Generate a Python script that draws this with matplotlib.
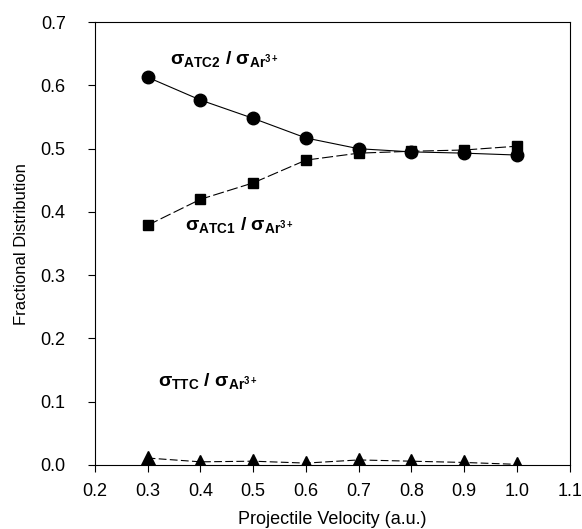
import matplotlib
matplotlib.use("Agg")
import matplotlib.pyplot as plt

plt.rcParams["font.family"] = ["Liberation Sans", "DejaVu Sans"]
plt.rcParams["mathtext.fontset"] = "custom"
plt.rcParams["mathtext.rm"] = "Liberation Sans"
plt.rcParams["mathtext.it"] = "Liberation Sans"
plt.rcParams["mathtext.bf"] = "Liberation Sans:bold"

# 数据
velocity = [0.3, 0.4, 0.5, 0.6, 0.7, 0.8, 0.9, 1.0]
atc2 = [0.613, 0.577, 0.548, 0.517, 0.500, 0.495, 0.493, 0.490]
atc1 = [0.379, 0.420, 0.446, 0.482, 0.493, 0.496, 0.498, 0.504]
ttc = [0.011, 0.005, 0.006, 0.003, 0.008, 0.006, 0.004, 0.001]

x_ticks = [0.2, 0.3, 0.4, 0.5, 0.6, 0.7, 0.8, 0.9, 1.0, 1.1]
y_ticks = [0.0, 0.1, 0.2, 0.3, 0.4, 0.5, 0.6, 0.7]

fig = plt.figure(figsize=(5.82, 5.29), dpi=100)
ax = fig.add_axes([0.163, 0.121, 0.816, 0.837])

ax.plot(velocity, atc2, "k-", lw=0.8, marker="o", markersize=9)
ax.plot(velocity, atc1, "k-", lw=0.8, dashes=(10, 3), marker="s", markersize=7.5)
ax.plot(velocity, ttc, "k-", lw=0.8, dashes=(7, 3), marker="^", markersize=9.5)

ax.text(0.342, 0.634, r"$\mathbf{\sigma_{ATC2}\ /\ \sigma_{Ar^{3+}}}$", fontsize=14)
ax.text(0.37, 0.372, r"$\mathbf{\sigma_{ATC1}\ /\ \sigma_{Ar^{3+}}}$", fontsize=14)
ax.text(0.32, 0.125, r"$\mathbf{\sigma_{TTC}\ /\ \sigma_{Ar^{3+}}}$", fontsize=14)

ax.set_xlim(0.2, 1.1)
ax.set_ylim(0.0, 0.7)
ax.set_xticks(x_ticks)
ax.set_yticks(y_ticks)
ax.set_xticklabels([f"{v:.1f}" for v in x_ticks])
ax.set_yticklabels([f"{v:.1f}" for v in y_ticks])
ax.tick_params(direction="out", length=5, width=0.8, labelsize=13)
ax.tick_params(axis="x", pad=8)
ax.tick_params(axis="y", pad=16)
ax.set_xlabel("Projectile Velocity (a.u.)", fontsize=13, labelpad=8)
ax.set_ylabel("Fractional Distribution", fontsize=12, labelpad=8)

fig.savefig("out.png", dpi=100)
